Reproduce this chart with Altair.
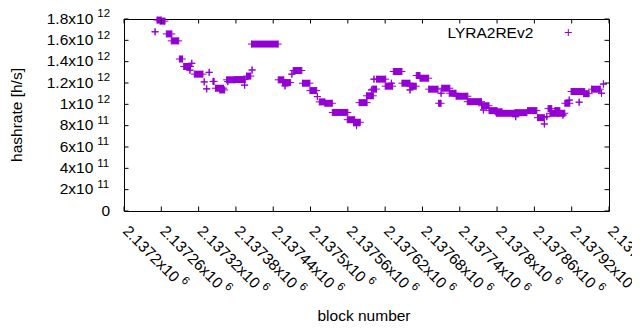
import altair as alt
import pandas as pd

PURPLE = "#9400D3"
FONT = "Liberation Sans"
W, H = 485, 192
PLUS = "M-1,0L1,0M0,-1L0,1"

# runs of equal hashrate (first block, last block, value)
run_start = [2137250, 2137253, 2137258, 2137268, 2137276, 2137289, 2137296, 2137309, 2137306, 2137313,
             2137329, 2137333, 2137337, 2137343, 2137347, 2137354, 2137367, 2137365, 2137378, 2137394,
             2137397, 2137406, 2137405, 2137448, 2137455, 2137459, 2137470, 2137472, 2137487, 2137499,
             2137511, 2137514, 2137523, 2137535, 2137559, 2137569, 2137574, 2137578, 2137590, 2137598,
             2137600, 2137602, 2137606, 2137620, 2137630, 2137633, 2137647, 2137660, 2137660, 2137670,
             2137676, 2137690, 2137706, 2137710, 2137711, 2137723, 2137734, 2137752, 2137775, 2137778,
             2137787, 2137797, 2137799, 2137829, 2137830, 2137849, 2137865, 2137876, 2137880, 2137882,
             2137885, 2137893, 2137898, 2137906, 2137909, 2137916, 2137919, 2137939, 2137932, 2137952,
             2137971, 2137968]
run_end = [2137250, 2137260, 2137266, 2137277, 2137288, 2137294, 2137307, 2137309, 2137306, 2137327,
           2137329, 2137333, 2137337, 2137345, 2137360, 2137362, 2137367, 2137378, 2137395, 2137394,
           2137404, 2137406, 2137448, 2137457, 2137468, 2137459, 2137470, 2137486, 2137499, 2137510,
           2137511, 2137523, 2137535, 2137560, 2137571, 2137580, 2137574, 2137591, 2137601, 2137598,
           2137606, 2137602, 2137621, 2137632, 2137630, 2137647, 2137660, 2137670, 2137660, 2137676,
           2137690, 2137705, 2137710, 2137710, 2137724, 2137734, 2137753, 2137775, 2137787, 2137778,
           2137800, 2137808, 2137829, 2137848, 2137830, 2137864, 2137876, 2137876, 2137880, 2137888,
           2137898, 2137901, 2137909, 2137906, 2137917, 2137916, 2137941, 2137948, 2137932, 2137966,
           2137971, 2137968]
run_hashrate = [1.68e12, 1.79e12, 1.78e12, 1.66e12, 1.595e12, 1.425e12, 1.355e12, 1.385e12, 1.32e12, 1.283e12,
                1.21e12, 1.145e12, 1.30e12, 1.215e12, 1.151e12, 1.135e12, 1.213e12, 1.23e12, 1.232e12, 1.18e12,
                1.265e12, 1.322e12, 1.565e12, 1.23e12, 1.204e12, 1.173e12, 1.283e12, 1.317e12, 1.198e12, 1.129e12,
                1.072e12, 1.023e12, 1.01e12, 0.924e12, 0.856e12, 0.832e12, 0.80e12, 1.016e12, 1.08e12, 1.135e12,
                1.143e12, 1.236e12, 1.236e12, 1.17e12, 1.198e12, 1.308e12, 1.198e12, 1.17e12, 1.135e12, 1.27e12,
                1.245e12, 1.142e12, 1.01e12, 1.104e12, 1.151e12, 1.104e12, 1.076e12, 1.025e12, 0.987e12, 0.947e12,
                0.941e12, 0.93e12, 0.916e12, 0.922e12, 0.884e12, 0.941e12, 0.875e12, 0.816e12, 0.884e12, 0.96e12,
                0.916e12, 0.941e12, 0.916e12, 0.90e12, 1.01e12, 1.04e12, 1.12e12, 1.10e12, 1.02e12, 1.142e12,
                1.19e12, 1.104e12]

x_tick_values = [2137200, 2137260, 2137320, 2137380, 2137440, 2137500, 2137560,
                 2137620, 2137680, 2137740, 2137800, 2137860, 2137920, 2137980]
x_tick_main = ["2.1372x10", "2.13726x10", "2.13732x10", "2.13738x10", "2.13744x10", "2.1375x10", "2.13756x10",
               "2.13762x10", "2.13768x10", "2.13774x10", "2.1378x10", "2.13786x10", "2.13792x10", "2.13798x10"]
x_tick_exp = ["6"] * len(x_tick_values)

y_tick_values = [0, 2e11, 4e11, 6e11, 8e11, 1e12, 1.2e12, 1.4e12, 1.6e12, 1.8e12]
y_tick_main = ["0", "2x10", "4x10", "6x10", "8x10", "1x10", "1.2x10", "1.4x10", "1.6x10", "1.8x10"]
y_tick_exp = ["", "11", "11", "11", "11", "12", "12", "12", "12", "12"]

xs = alt.Scale(domain=[2137200, 2137980], nice=False, zero=False)
ys = alt.Scale(domain=[0, 1.8e12], nice=False, zero=True)

runs = pd.DataFrame({"start": run_start, "end": run_end, "hashrate": run_hashrate})
xt = pd.DataFrame({"block": x_tick_values, "main": x_tick_main, "exp": x_tick_exp})
yt = pd.DataFrame({"v": y_tick_values, "main": y_tick_main, "exp": y_tick_exp})

bars = alt.Chart(runs).mark_rule(strokeWidth=7, strokeCap="butt", color=PURPLE).encode(
    x=alt.X("start:Q", scale=xs, axis=None), x2="end:Q",
    y=alt.Y("hashrate:Q", scale=ys, axis=None))
p_start = alt.Chart(runs).mark_point(shape=PLUS, size=49, filled=False, strokeWidth=1,
                                      color=PURPLE, opacity=1).encode(
    x=alt.X("start:Q", scale=xs, axis=None), y=alt.Y("hashrate:Q", scale=ys, axis=None))
p_end = alt.Chart(runs).mark_point(shape=PLUS, size=49, filled=False, strokeWidth=1,
                                    color=PURPLE, opacity=1).encode(
    x=alt.X("end:Q", scale=xs, axis=None), y=alt.Y("hashrate:Q", scale=ys, axis=None))

tick_len = 4.5
xtb = alt.Chart(xt).mark_rule(color="black", strokeWidth=1).encode(
    x=alt.X("block:Q", scale=xs, axis=None), y=alt.value(H), y2=alt.value(H - tick_len))
xtt = alt.Chart(xt).mark_rule(color="black", strokeWidth=1).encode(
    x=alt.X("block:Q", scale=xs, axis=None), y=alt.value(0), y2=alt.value(tick_len))
ytl = alt.Chart(yt).mark_rule(color="black", strokeWidth=1).encode(
    y=alt.Y("v:Q", scale=ys, axis=None), x=alt.value(0), x2=alt.value(tick_len))
ytr = alt.Chart(yt).mark_rule(color="black", strokeWidth=1).encode(
    y=alt.Y("v:Q", scale=ys, axis=None), x=alt.value(W), x2=alt.value(W - tick_len))

FS = 15.5
EFS = 11.5
xl_main = alt.Chart(xt).mark_text(angle=45, align="left", baseline="middle", fontSize=FS, font=FONT,
                                   dx=2, color="black").encode(
    x=alt.X("block:Q", scale=xs, axis=None), y=alt.value(H + 16), text="main:N")
xl_exp_s = alt.Chart(xt).transform_filter("length(datum.main) == 9").mark_text(
    angle=45, align="left", baseline="middle", fontSize=EFS, font=FONT, dx=2 + 72.4 + 4, dy=-5,
    color="black").encode(x=alt.X("block:Q", scale=xs, axis=None), y=alt.value(H + 16), text="exp:N")
xl_exp_l = alt.Chart(xt).transform_filter("length(datum.main) == 10").mark_text(
    angle=45, align="left", baseline="middle", fontSize=EFS, font=FONT, dx=2 + 81.0 + 4, dy=-5,
    color="black").encode(x=alt.X("block:Q", scale=xs, axis=None), y=alt.value(H + 16), text="exp:N")

yl_main = alt.Chart(yt).transform_filter("datum.exp != ''").mark_text(
    align="right", baseline="alphabetic", fontSize=FS, font=FONT, dy=4.5, color="black").encode(
    y=alt.Y("v:Q", scale=ys, axis=None), x=alt.value(-30.7), text="main:N")
yl_zero = alt.Chart(yt).transform_filter("datum.exp == ''").mark_text(
    align="right", baseline="alphabetic", fontSize=FS, font=FONT, dy=4.5, color="black").encode(
    y=alt.Y("v:Q", scale=ys, axis=None), x=alt.value(-14), text="main:N")
yl_exp = alt.Chart(yt).transform_filter("datum.exp != ''").mark_text(
    align="left", baseline="alphabetic", fontSize=EFS, font=FONT, dy=-1.6, color="black").encode(
    y=alt.Y("v:Q", scale=ys, axis=None), x=alt.value(-26.7), text="exp:N")

ytitle = alt.Chart(pd.DataFrame({"t": ["hashrate [h/s]"]})).mark_text(
    angle=270, align="center", baseline="middle", fontSize=FS, font=FONT, color="black").encode(
    x=alt.value(-107), y=alt.value(96), text="t:N")
xtitle = alt.Chart(pd.DataFrame({"t": ["block number"]})).mark_text(
    align="center", baseline="middle", fontSize=FS, font=FONT, color="black").encode(
    x=alt.value(240), y=alt.value(297), text="t:N")

leg_text = alt.Chart(pd.DataFrame({"t": ["LYRA2REv2"]})).mark_text(
    align="right", baseline="alphabetic", fontSize=FS, font=FONT, color="black").encode(
    x=alt.value(409.3), y=alt.value(18.8), text="t:N")
leg_pt = alt.Chart(pd.DataFrame({"t": ["LYRA2REv2"]})).mark_point(
    shape=PLUS, size=49, filled=False, strokeWidth=1, color=PURPLE, opacity=1).encode(
    x=alt.value(444.3), y=alt.value(13.5))

chart = alt.layer(
    bars, p_start, p_end, xtb, xtt, ytl, ytr,
    xl_main, xl_exp_s, xl_exp_l, yl_main, yl_zero, yl_exp,
    ytitle, xtitle, leg_text, leg_pt
).properties(
    width=W, height=H,
    autosize=alt.AutoSizeParams(type="none"),
    padding={"left": 116, "top": 11, "right": 23, "bottom": 111},
    background="white",
).configure_view(stroke="black", strokeWidth=1)

chart.save("out.html", embed_options={"renderer": "svg", "actions": False})
